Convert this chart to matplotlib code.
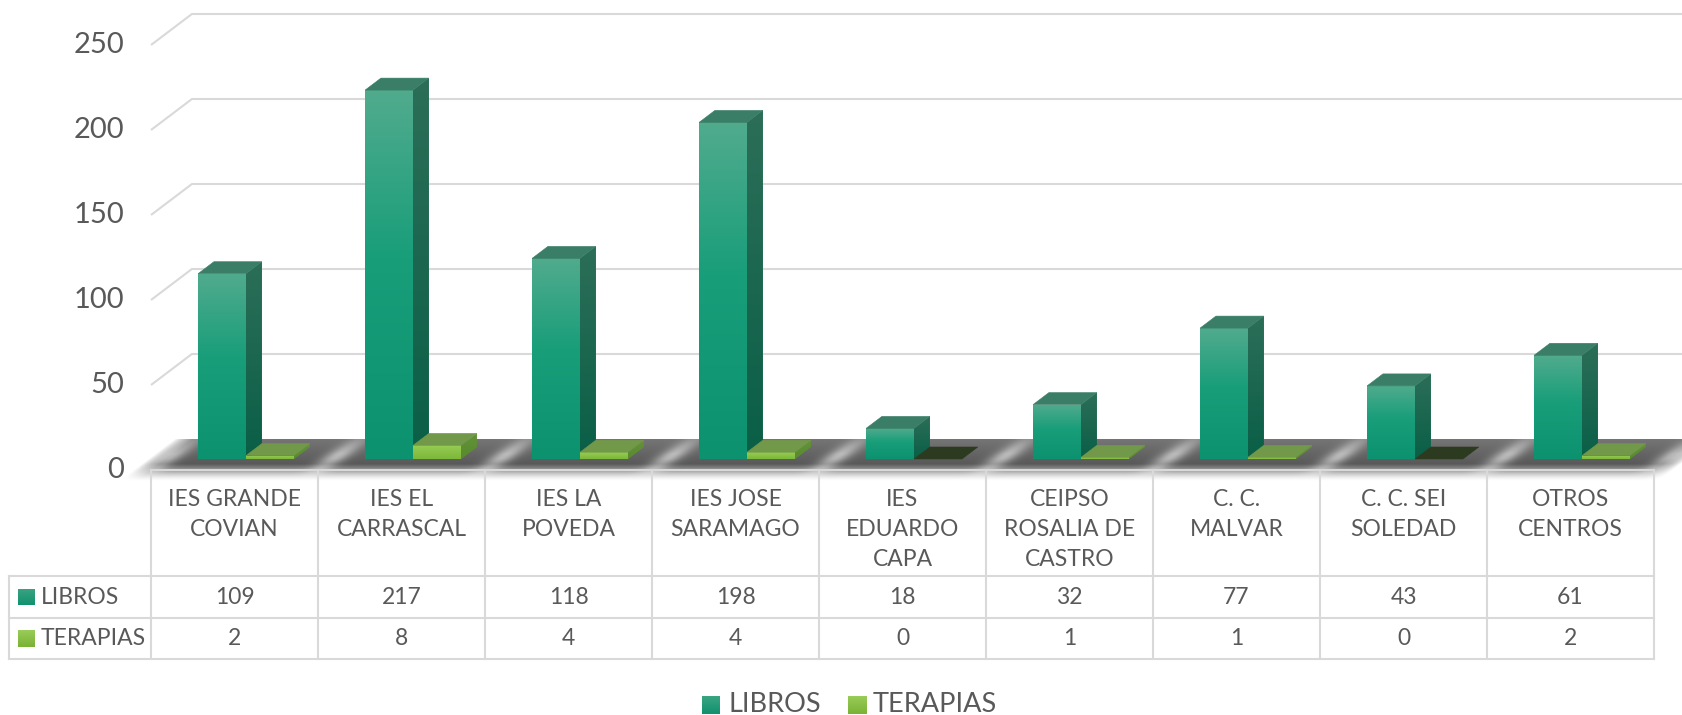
import numpy as np
import matplotlib
matplotlib.use("Agg")
import matplotlib.pyplot as plt
from matplotlib.patches import Polygon
from matplotlib.transforms import Affine2D, blended_transform_factory, offset_copy
from matplotlib.colors import to_rgb

# ---------------- data ----------------
categories = ["IES GRANDE\nCOVIAN", "IES EL\nCARRASCAL", "IES LA\nPOVEDA",
              "IES JOSE\nSARAMAGO", "IES\nEDUARDO\nCAPA", "CEIPSO\nROSALIA DE\nCASTRO",
              "C. C.\nMALVAR", "C. C. SEI\nSOLEDAD", "OTROS\nCENTROS"]
libros = [109, 217, 118, 198, 18, 32, 77, 43, 61]
terapias = [2, 8, 4, 4, 0, 1, 1, 0, 2]
series_names = ["LIBROS", "TERAPIAS"]
y_ticks = [0, 50, 100, 150, 200, 250]

# ---------------- layout / style ----------------
W, H, DPI = 1683, 715, 100
FONT = ["Lato", "DejaVu Sans"]
TXT = "#595959"
GRID = "#d9d9d9"

fig = plt.figure(figsize=(W / DPI, H / DPI), dpi=DPI)
ax = fig.add_axes([0, 0, 1, 1])
ax.set_axis_off()

PX_CAT = 167.0   # pixels per category
PX_VAL = 1.70    # pixels per value unit
X0 = 234.5       # pixel x of category 0 (front plane)
Y0 = 245.0       # pixel y (from bottom) of value 0 (front plane)
SLOPE = 1.32     # oblique projection: x shift per px of depth
XLIM = (-X0 / PX_CAT, (W - X0) / PX_CAT)
YLIM = (-Y0 / PX_VAL, (H - Y0) / PX_VAL)

D_FRONT, D_BACK, D_WALL = 11, 23, 31
BAR_W = 0.287
BAR_L0 = -0.305


def depth(D):
    return SLOPE * D / PX_CAT, D / PX_VAL


def vgrad(stops, n=64):
    ts = np.linspace(0, 1, n)
    tt = [s[0] for s in stops]
    cols = np.array([to_rgb(s[1]) for s in stops])
    img = np.stack([np.interp(ts, tt, cols[:, c]) for c in range(3)], axis=-1)
    return img[:, None, :]


def grad_poly(verts, stops, z):
    """Polygon filled with a vertical gradient (bottom -> top of its bbox)."""
    verts = np.asarray(verts)
    poly = Polygon(verts, closed=True, facecolor=stops[-1][1], edgecolor="none", zorder=z)
    ax.add_patch(poly)
    xmin, ymin = verts.min(axis=0)
    xmax, ymax = verts.max(axis=0)
    im = ax.imshow(vgrad(stops), extent=(xmin, xmax, ymin, ymax), origin="lower",
                   interpolation="bilinear", aspect="auto", zorder=z + 0.01)
    im.set_clip_path(poly)


# gridlines (left side wall + back wall) and value labels
wdx, wdy = depth(D_WALL)
lab_tr = offset_copy(ax.transData, fig=fig, x=-27, y=0, units="dots")
for v in y_ticks:
    if v > 0:
        ax.plot([-0.5, -0.5 + wdx, XLIM[1] + 1], [v, v + wdy, v + wdy],
                color=GRID, lw=1.5, zorder=1, solid_capstyle="butt")
    ax.text(-0.5, v, str(v), transform=lab_tr, ha="right", va="center",
            fontsize=21, color=TXT, family=FONT)

# floor (textured parallelogram with soft front edge)
n_cat = len(categories)
s_min, s_max = -0.012, 1.012
t_min, t_max = -0.35, 1.0
Ns, Nt = 1400, 120
ss = np.linspace(s_min, s_max, Ns)
ts = np.linspace(t_min, t_max, Nt)
S, T = np.meshgrid(ss, ts)
U = -0.5 + S * n_cat
g = 0.32 + 0.14 * np.clip(T, 0, 1)
patch = np.zeros_like(U)
for k in range(-1, n_cat):
    patch += np.exp(-((U - (k + 0.5)) / 0.075) ** 2)
g = g + 0.34 * patch * np.clip(1.1 - np.abs(T - 0.45) * 1.4, 0, 1)
g = g + np.clip((0.2 - T) / 0.2, 0, 1) * 0.28
g = np.clip(g, 0, 0.92)
alpha = np.clip(1 + T / 0.35, 0, 1) ** 1.5
side = np.minimum((S - s_min) / 0.012, (s_max - S) / 0.012)
alpha = alpha * np.clip(side, 0, 1)
floor_img = np.stack([g, g, g, alpha], axis=-1)
E1f = (n_cat * (s_max - s_min), 0.0)
E2f = (wdx * (t_max - t_min), wdy * (t_max - t_min))
P0f = (-0.5 + n_cat * s_min + wdx * t_min, wdy * t_min)
tr_floor = Affine2D.from_values(E1f[0], E1f[1], E2f[0], E2f[1], P0f[0], P0f[1]) + ax.transData
ax.imshow(floor_img, extent=(0, 1, 0, 1), origin="lower", transform=tr_floor,
          interpolation="bilinear", aspect="auto", zorder=2)

# bars
LIB_FRONT = [(0, "#0d9270"), (0.55, "#199e7a"), (1, "#50ab8d")]
LIB_SIDE = [(0, "#0a5f47"), (1, "#2c6e58")]
LIB_TOP = "#3a7e67"
TER_FRONT = [(0, "#7cb83a"), (1, "#96cd52")]
TER_SIDE = [(0, "#588a2c"), (1, "#64923a")]
TER_TOP = "#72994a"
ZERO_TOP = "#2c3a1f"

fdx, fdy = depth(D_FRONT)
bdx, bdy = depth(D_BACK)


def draw_box(x0, x1, v, front, sidec, topc, z):
    if v > 0:
        grad_poly([(x0 + fdx, fdy), (x1 + fdx, fdy), (x1 + fdx, v + fdy), (x0 + fdx, v + fdy)],
                  front, z)
        grad_poly([(x1 + fdx, fdy), (x1 + bdx, bdy), (x1 + bdx, v + bdy), (x1 + fdx, v + fdy)],
                  sidec, z)
    else:
        topc = ZERO_TOP
    ax.add_patch(Polygon([(x0 + fdx, v + fdy), (x1 + fdx, v + fdy),
                          (x1 + bdx, v + bdy), (x0 + bdx, v + bdy)],
                         closed=True, facecolor=topc, edgecolor=topc, lw=0.4, zorder=z + 0.5))


z = 3
for i in range(n_cat):
    x0 = i + BAR_L0
    draw_box(x0, x0 + BAR_W, libros[i], LIB_FRONT, LIB_SIDE, LIB_TOP, z)
    z += 1
    draw_box(x0 + BAR_W, x0 + 2 * BAR_W, terapias[i], TER_FRONT, TER_SIDE, TER_TOP, z)
    z += 1

# ---------------- data table ----------------
tb = blended_transform_factory(ax.transData, fig.transFigure)


def fy(py):
    return 1 - py / H


TOP, R1, R2, R3 = 470, 576, 618, 659
LEFT_PX = 9
ax.plot([-0.5, n_cat - 0.5], [fy(TOP)] * 2, transform=tb, color=GRID, lw=1.5, zorder=40)
for k in range(n_cat + 1):
    ax.plot([k - 0.5, k - 0.5], [fy(TOP), fy(R3)], transform=tb, color=GRID, lw=1.5, zorder=40)
x_left_data = XLIM[0] + LEFT_PX / PX_CAT
for py in (R1, R2, R3):
    ax.plot([x_left_data, n_cat - 0.5], [fy(py)] * 2, transform=tb, color=GRID, lw=1.5, zorder=40)
ax.plot([x_left_data, x_left_data], [fy(R1), fy(R3)], transform=tb, color=GRID, lw=1.5, zorder=40)

for i, cat in enumerate(categories):
    for k, line in enumerate(cat.split("\n")):
        ax.text(i, fy(499 + 30 * k), line, transform=tb, ha="center", va="center",
                fontsize=16.5, color=TXT, family=FONT)
    ax.text(i, fy((R1 + R2) / 2), str(libros[i]), transform=tb, ha="center", va="center",
            fontsize=16.5, color=TXT, family=FONT)
    ax.text(i, fy((R2 + R3) / 2), str(terapias[i]), transform=tb, ha="center", va="center",
            fontsize=16.5, color=TXT, family=FONT)

KEY_COLS = [[(0, "#11926f"), (1, "#3aa382")], [(0, "#7ab335"), (1, "#98cb58")]]


def key(idx, px, py_top, size):
    axk = fig.add_axes([px / W, 1 - (py_top + size) / H, size / W, size / H])
    axk.imshow(vgrad(KEY_COLS[idx], 16), extent=(0, 1, 0, 1), origin="lower",
               aspect="auto", interpolation="bilinear")
    axk.set_axis_off()


for idx, (name, row_c) in enumerate(zip(series_names, [(R1 + R2) / 2, (R2 + R3) / 2])):
    key(idx, 18, row_c - 8.5, 17)
    fig.text(41 / W, fy(row_c), name, ha="left", va="center", fontsize=16.5, color=TXT, family=FONT)

# ---------------- legend ----------------
leg_items = [(702, 729), (848, 873)]
for idx, (name, (kx, tx)) in enumerate(zip(series_names, leg_items)):
    key(idx, kx, 696, 18)
    fig.text(tx / W, fy(704), name, ha="left", va="center", fontsize=19.5, color=TXT, family=FONT)

ax.set_xlim(*XLIM)
ax.set_ylim(*YLIM)
fig.savefig("out.png", dpi=DPI)
